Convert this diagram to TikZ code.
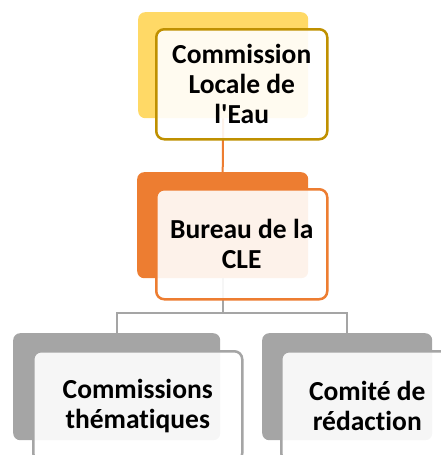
\documentclass[tikz,border=0pt]{standalone}
\usepackage{fontspec}
\newfontfamily\calfont[Ligatures={NoCommon}]{Carlito}
\definecolor{yback}{HTML}{FFD966}
\definecolor{yline}{HTML}{BF9000}
\definecolor{oback}{HTML}{ED7D31}
\definecolor{gback}{HTML}{A5A5A5}
\begin{document}
\begin{tikzpicture}[x=1pt,y=-1pt,
  backbox/.style={rectangle,rounded corners=7pt,inner sep=0pt,anchor=north west},
  frontbox/.style={rectangle,rounded corners=8pt,inner sep=0pt,anchor=north west,
     line width=2.5pt,fill=white,fill opacity=0.9,text opacity=1,
     minimum height=110pt,align=center,font=\calfont\fontsize{27.5}{30}\selectfont\bfseries},
  conn/.style={line width=2pt}]
\clip (0,0) rectangle (441,455);
\useasboundingbox (0,0) rectangle (441,455);
% back boxes
\node[backbox,fill=yback,minimum width=170pt,minimum height=106pt] (b1) at (138,12) {};
\node[backbox,fill=oback,minimum width=171pt,minimum height=106pt] (b2) at (137,172) {};
\node[backbox,fill=gback,minimum width=207pt,minimum height=107pt] (b3) at (13,333) {};
\node[backbox,fill=gback,minimum width=170pt,minimum height=107pt] (b4) at (262,333) {};
% connectors
\draw[conn,oback] (b1.south) -- (b2.north);
\draw[conn,gback] (b2.south) -- (b2.south |- 0,313) coordinate (j)
   -| (b3.north);
\draw[conn,gback] (j) -| (b4.north);
% front boxes
\node[frontbox,draw=yline,minimum width=171pt] (f1) at (155,28) {Commission\\Locale de\\l'Eau};
\node[frontbox,draw=oback,minimum width=171pt] (f2) at (155,188) {Bureau de la\\CLE};
\node[frontbox,draw=gback,minimum width=209pt] (f3) at (32,350) {Commissions\\thématiques};
\node[frontbox,draw=gback,minimum width=172pt] (f4) at (280,350) {Comité de\\rédaction};
\end{tikzpicture}
\end{document}
